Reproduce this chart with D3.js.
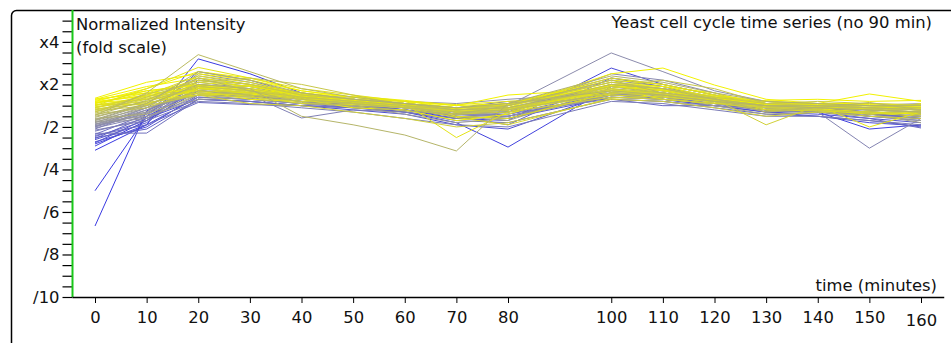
<!DOCTYPE html>
<html>
<head>
<meta charset="utf-8">
<script src="https://cdn.jsdelivr.net/npm/d3@7"></script>
<style>
  body { margin: 0; background: #fff; }
  svg text { font-family: "DejaVu Sans", sans-serif; font-size: 16.4px; fill: #111; }
</style>
</head>
<body>
<svg id="chart" width="951" height="343"></svg>
<script>
// sample times (the 90 min point is missing from the series)
const times = [0, 10, 20, 30, 40, 50, 60, 70, 80, 100, 110, 120, 130, 140, 150, 160];
const xTickValues = [0, 10, 20, 30, 40, 50, 60, 70, 80, 100, 110, 120, 130, 140, 150, 160];

// fold scale: +n means x(n+1), -n means /(n+1)
const yTickValues = [3, 1, -1, -3, -5, -7, -9];
const yTickLabels = ['x4', 'x2', '/2', '/4', '/6', '/8', '/10'];

// profiles that start low at t=0 (bluish)
const lowStart = [
  [-5.66, -0.25, 0.9, 0.7, 0.35, 0.15, -0.1, -0.5, -0.6, 0.6, 0.5, 0.2, -0.2, -0.3, -0.5, -0.6],
  [-4.0, -0.5, 0.7, 0.6, 0.3, 0.1, -0.2, -0.6, -0.5, 0.5, 0.4, 0.1, -0.2, -0.2, -0.4, -0.5],
  [-2.1, -0.9, 2.2, 1.5, 0.6, 0.3, 0.0, -0.4, -0.3, 1.0, 0.8, 0.4, 0.0, -0.1, -0.3, -0.4],
  [-1.9, -0.7, 0.7, 0.5, 0.2, 0.0, -0.3, -0.8, -1.95, 0.9, 0.6, 0.2, -0.2, -0.3, -1.1, -0.9],
  [-1.8, -0.9, 0.4, 0.3, 0.1, -0.1, -0.3, -0.6, -0.7, 1.77, 1.0, 0.5, 0.0, -0.2, -0.5, -0.7],
  [-1.75, -0.6, 0.3, 0.2, 0.0, -0.2, -0.4, -0.9, -1.1, 0.6, 0.3, 0.0, -0.3, -0.5, -0.8, -0.95],
  [-1.7, -1.0, 0.5, 0.45, 0.2, 0.0, -0.2, -0.5, -0.6, 0.4, 0.3, 0.0, -0.3, -0.4, -0.6, -0.8],
  [-1.6, -0.8, 0.9, 0.7, 0.35, 0.15, -0.1, -0.4, -0.5, 0.6, 0.5, 0.2, -0.1, -0.2, -0.4, -0.5],
  [-1.55, -0.5, 1.6, 1.2, 0.5, 0.1, -0.2, -0.5, -0.9, 1.3, 0.9, 0.3, -0.3, -0.2, -0.4, -0.6],
  [-1.5, -1.1, 0.3, 0.2, 0.0, -0.1, -0.3, -0.7, -0.8, 0.3, 0.2, -0.1, -0.4, -0.5, -0.7, -1.0],
  [-1.45, -0.7, 1.2, 0.9, 0.4, 0.2, 0.0, -0.3, -0.3, 0.9, 0.7, 0.3, 0.0, -0.1, -0.3, -0.4]
];

// profiles that start in the middle (grey)
const midStart = [
  [-1.4, -0.9, 0.15, 0.05, 0.0, 0.15, 0.0, -0.1, 0.2, 0.3, 0.0, 0.0, -0.1, -0.3, -0.6, -1.05],
  [-1.35, -0.4, 1.0, 0.8, 0.4, 0.2, 0.0, -0.3, -0.2, 1.0, 0.7, 0.3, 0.0, -0.1, -0.2, -0.3],
  [-1.3, -1.29, 0.3, 0.2, 0.0, -0.1, -0.2, -0.5, -0.4, 0.4, 0.3, 0.1, -0.2, -0.3, -0.4, -0.6],
  [-1.2, -0.6, 0.8, 0.6, 0.3, 0.1, -0.1, -0.4, -0.4, 0.7, 0.6, 0.2, -0.1, -0.2, -0.3, -0.5],
  [-1.15, -0.7, 0.2, 0.1, -0.1, -0.3, -0.6, -0.9, -1.0, 0.2, 0.1, -0.2, -0.5, -0.5, -0.7, -0.9],
  [-1.1, -0.2, 0.6, 0.5, -0.58, -0.2, -0.3, -0.6, -0.5, 0.5, 0.4, 0.1, -0.2, -0.3, -0.3, -0.4],
  [-1.05, -0.5, 0.4, 0.3, 0.1, 0.0, -0.2, -0.4, -0.3, 0.3, 0.2, 0.0, -0.2, -0.3, -2.0, -0.6],
  [-1.0, -0.1, 1.3, 1.0, 0.5, 0.3, 0.1, -0.1, 0.0, 1.2, 0.9, 0.4, 0.1, 0.0, -0.1, -0.2],
  [-1.0, -0.35, 0.95, 0.9, 0.6, 0.15, 0.1, -0.6, -0.3, 1.5, 1.2, 0.6, -0.1, 0.1, -0.2, -0.1],
  [-0.95, -0.3, 1.5, 1.1, 0.5, 0.3, 0.1, -0.2, 0.0, 2.48, 1.6, 0.7, 0.2, 0.0, -0.1, -0.2],
  [-0.95, -0.4, 0.7, 0.5, 0.3, 0.2, 0.0, -0.3, -0.2, 0.6, 0.4, 0.2, 0.0, -0.1, -0.2, -0.3],
  [-0.9, -0.2, 0.9, 0.7, 0.4, 0.2, 0.0, -0.2, -0.1, 0.9, 0.7, 0.3, 0.0, 0.0, -0.1, -0.2],
  [-0.88, -0.1, 0.5, 0.6, 0.45, 0.4, 0.2, 0.1, 0.3, 0.6, 0.5, 0.3, 0.2, 0.1, 0.0, 0.1],
  [-0.85, -0.6, 0.5, 0.3, 0.1, 0.0, -0.1, -0.4, -0.5, 0.5, 0.3, 0.1, -0.1, -0.2, -0.3, -0.4],
  [-0.8, 0.0, 1.1, 0.8, 0.5, 0.3, 0.1, -0.1, 0.1, 1.1, 0.8, 0.4, 0.1, 0.0, 0.0, -0.1],
  [-0.78, -0.5, 0.3, 0.35, 0.1, -0.05, -0.4, -0.8, -0.6, 0.5, 0.6, 0.2, -0.3, -0.2, -0.5, -0.7],
  [-0.75, -0.3, 0.8, 0.6, 0.3, 0.1, -0.1, -0.3, -0.2, 0.7, 0.5, 0.2, -0.1, -0.1, -0.2, -0.3],
  [-0.7, -0.1, 0.6, 0.5, 0.3, 0.2, 0.0, -0.2, -0.1, 0.5, 0.4, 0.2, 0.0, -0.1, -0.1, -0.2],
  [-0.68, 0.05, 0.9, 0.5, 0.2, 0.25, -0.05, -0.5, -0.7, 0.8, 0.4, 0.0, -0.4, -0.3, -0.4, -0.8],
  [-0.65, 0.1, 1.4, 1.0, 0.6, 0.3, 0.1, -0.1, 0.0, 1.3, 1.0, 0.5, 0.1, 0.0, 0.0, -0.1],
  [-0.6, -0.4, 0.5, 0.4, 0.2, 0.1, -0.1, -0.3, -0.3, 0.4, 0.3, 0.1, -0.1, -0.2, -0.3, -0.4]
];

// profiles that start high (yellow)
const highStart = [
  [0.35, 1.1, 1.5, 1.2, 0.7, 0.4, 0.2, 0.0, 0.1, 1.2, 1.0, 0.5, 0.2, 0.1, 0.1, 0.0],
  [0.3, 0.9, 1.3, 1.0, 0.6, 0.4, 0.2, -0.1, 0.0, 1.0, 0.8, 0.4, 0.1, 0.0, 0.0, -0.1],
  [0.3, 0.6, 0.7, 0.3, 0.2, 0.45, 0.25, 0.0, 0.5, 0.8, 0.3, 0.1, 0.25, 0.3, 0.2, 0.25],
  [0.25, 0.7, 1.0, 0.8, 0.5, 0.3, 0.1, -0.1, 0.1, 0.9, 0.7, 0.3, 0.1, 0.1, 0.55, 0.2],
  [0.2, 0.8, 1.6, 1.3, 0.7, 0.4, 0.1, -0.2, -0.1, 1.5, 1.77, 0.97, 0.3, 0.1, 0.0, -0.1],
  [0.2, 0.45, 0.85, 0.7, 0.4, 0.2, 0.05, -0.3, -0.1, 0.7, 0.6, 0.25, 0.0, -0.05, 0.0, -0.05],
  [0.15, 0.5, 0.9, 0.7, 0.4, 0.2, 0.0, -0.3, -0.2, 0.8, 0.6, 0.3, 0.0, -0.1, -0.1, -0.2],
  [0.15, 0.3, 0.5, 0.55, 0.3, -0.1, -0.2, -0.7, -0.4, 1.0, 0.9, 0.6, 0.0, -0.15, -0.3, -0.4],
  [0.1, 0.6, 1.2, 0.9, 0.5, 0.3, 0.1, -0.1, 0.0, 1.1, 0.9, 0.4, 0.1, 0.0, 0.0, 0.0],
  [0.1, 0.7, 0.95, 0.75, 0.45, 0.25, 0.05, -0.15, 0.05, 0.95, 0.75, 0.35, 0.05, 0.05, 0.05, 0.0],
  [0.05, 0.3, 0.7, 0.6, 0.3, 0.2, 0.0, -0.2, -0.1, 0.6, 0.5, 0.2, 0.0, 0.0, -0.1, -0.1],
  [0.05, 0.05, 0.8, 0.95, 0.55, 0.3, 0.2, 0.05, 0.2, 0.55, 0.75, 0.45, 0.2, 0.0, -0.2, 0.1],
  [0.0, 0.4, 1.1, 0.9, 0.5, 0.3, 0.1, -1.5, -0.3, 0.9, 0.7, 0.3, 0.0, 0.0, -1.0, -0.3],
  [0.0, 0.8, 1.8, 1.3, 0.8, 0.5, 0.2, -0.5, -0.6, 0.6, 0.5, 0.5, -0.2, -0.2, -0.4, -0.3],
  [-0.05, 0.2, 0.8, 0.6, 0.4, 0.2, 0.0, -0.2, -0.1, 0.7, 0.5, 0.3, 0.0, 0.0, -0.1, -0.1],
  [-0.1, 0.5, 1.4, 1.1, 0.6, 0.3, 0.1, -0.1, 0.1, 1.3, 1.0, 0.5, 0.1, 0.1, 0.0, -0.1],
  [-0.1, 0.35, 0.8, 0.65, 0.35, 0.15, -0.05, -0.25, -0.15, 0.75, 0.55, 0.25, -0.05, -0.05, -0.15, -0.15],
  [-0.1, 0.45, 0.6, 0.45, 0.1, 0.05, -0.1, -0.55, -0.9, 0.35, 0.45, 0.15, -0.2, -0.25, -0.35, -0.5],
  [-0.15, 0.1, 0.6, 0.5, 0.3, 0.1, 0.0, -0.3, -0.2, 0.5, 0.4, 0.2, -0.1, -0.1, -0.2, -0.2],
  [-0.2, 0.3, 1.0, 0.8, 0.4, 0.2, 0.0, -0.2, 0.0, 0.9, 0.6, 0.3, -0.9, 0.0, -0.1, -0.2],
  [-0.2, 0.15, 0.5, 0.1, 0.0, -0.3, -0.6, -1.0, -0.8, 0.3, 0.2, -0.1, -0.5, -0.3, -0.5, -0.6],
  [-0.25, 0.0, 0.5, 0.4, 0.2, 0.1, -0.1, -0.4, -0.3, 0.4, 0.3, 0.1, -0.1, -0.2, -0.3, -0.3],
  [-0.3, 0.4, 1.2, 1.0, 0.5, 0.3, 0.1, -0.1, 0.0, 1.1, 0.8, 0.4, 0.1, 0.0, 0.0, -0.1],
  [-0.3, 0.55, 1.1, 1.3, 1.0, 0.5, 0.0, -0.4, -0.2, 0.9, 1.2, 0.8, 0.1, 0.2, 0.1, 0.05],
  [-0.35, 0.2, 0.9, 0.7, 0.4, 0.2, 0.0, -0.2, -0.1, 0.8, 0.6, 0.3, 0.0, 0.0, -0.1, -0.2],
  [-0.4, -0.1, 0.7, 0.5, 0.3, 0.1, -0.1, -0.3, -0.2, 0.6, 0.5, 0.2, 0.0, -0.1, -0.2, -0.3],
  [-0.45, 0.6, 2.4, 1.6, 0.8, 0.4, 0.1, -0.2, -0.1, 1.0, 0.8, 0.3, 0.0, 0.0, -0.1, -0.2],
  [-0.45, 0.25, 1.3, 0.7, 0.15, 0.0, -0.25, -0.4, 0.0, 1.2, 0.6, 0.35, -0.3, -0.1, 0.15, -0.2],
  [-0.5, 0.0, 1.0, 0.8, -0.5, -0.9, -1.38, -2.13, 0.1, 0.7, 0.5, 0.2, 0.0, -0.1, -0.2, -0.3],
  [-0.55, 0.1, 1.6, 1.2, 0.6, 0.3, 0.1, -0.1, 0.1, 1.4, 1.1, 0.6, 0.2, 0.1, 0.0, 0.0]
];

const svg = d3.select('#chart');

const x = d3.scaleLinear().domain([0, 160]).range([95, 921]);
const y = d3.scaleLinear().domain([-9, 4.5]).range([297, 10]);
const axisX = 72.5;

// colour follows the t=0 value: blue -> grey -> yellow
const color = d3.scaleLinear()
  .domain([-2.0, -0.9, 0.15])
  .range(['#3a3ae2', '#9090aa', '#f2f200'])
  .clamp(true);

// frame (cropped on the right and bottom)
svg.append('rect')
  .attr('x', 11.5).attr('y', 10.5)
  .attr('width', 1000).attr('height', 400)
  .attr('rx', 5)
  .attr('fill', 'none')
  .attr('stroke', '#000')
  .attr('stroke-width', 1.5);

const line = d3.line()
  .x((d, i) => x(times[i]))
  .y(d => y(d));

const allProfiles = [...lowStart, ...midStart, ...highStart];

svg.append('g')
  .attr('fill', 'none')
  .attr('stroke-width', 1)
  .selectAll('path')
  .data(allProfiles)
  .join('path')
  .attr('d', line)
  .attr('stroke', d => color(d[0]));

// y axis ticks every half unit, labels on the fold values
const yAxis = d3.axisLeft(y)
  .tickValues(d3.range(-9, 4.01, 0.5))
  .tickSize(10)
  .tickPadding(3)
  .tickFormat(v => {
    const k = yTickValues.indexOf(v);
    return k >= 0 ? yTickLabels[k] : '';
  });

const gy = svg.append('g')
  .attr('transform', `translate(${axisX},0)`)
  .call(yAxis)
  .attr('font-family', null)
  .attr('font-size', null);
gy.select('.domain').remove();
gy.selectAll('.tick line').attr('stroke', '#000').attr('stroke-width', 1.2);

// green y axis line
svg.append('line')
  .attr('x1', axisX).attr('x2', axisX)
  .attr('y1', y(4.5)).attr('y2', y(-9))
  .attr('stroke', '#18c818')
  .attr('stroke-width', 2);

// x axis
const xAxis = d3.axisBottom(x)
  .tickValues(xTickValues)
  .tickSize(6)
  .tickPadding(8)
  .tickFormat(d3.format('d'));

const gx = svg.append('g')
  .attr('transform', `translate(0,${y(-9)})`)
  .call(xAxis)
  .attr('font-family', null)
  .attr('font-size', null);
gx.select('.domain').remove();
gx.selectAll('.tick line').attr('stroke', '#000');
gx.selectAll('.tick text').filter(d => d === 160).attr('y', 17);

svg.append('line')
  .attr('x1', axisX).attr('x2', x(164.5))
  .attr('y1', y(-9) + 0.5).attr('y2', y(-9) + 0.5)
  .attr('stroke', '#000')
  .attr('stroke-width', 1.5);

// labels
svg.append('text').attr('x', 76).attr('y', 30).text('Normalized Intensity');
svg.append('text').attr('x', 76).attr('y', 52.5).text('(fold scale)');
svg.append('text').attr('x', 932).attr('y', 27.5).attr('text-anchor', 'end')
  .text('Yeast cell cycle time series (no 90 min)');
svg.append('text').attr('x', 937).attr('y', 291).attr('text-anchor', 'end')
  .text('time (minutes)');
</script>
</body>
</html>
